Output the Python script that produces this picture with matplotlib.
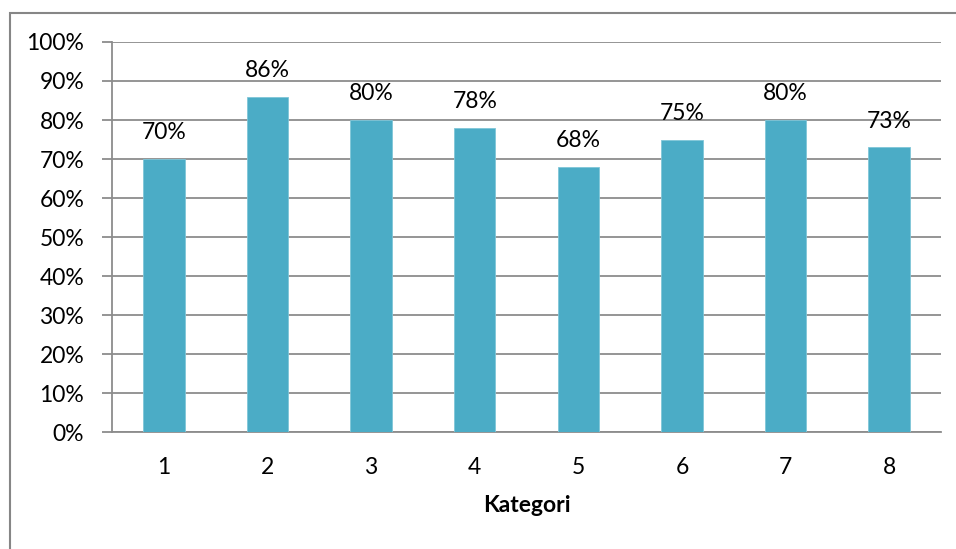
import matplotlib.pyplot as plt
import matplotlib.patches as patches
import numpy as np

# categories and shares
kategori = ['1', '2', '3', '4', '5', '6', '7', '8']
nilai = [0.70, 0.86, 0.80, 0.78, 0.68, 0.75, 0.80, 0.73]

plt.rcParams['font.family'] = ['Lato', 'DejaVu Sans']
fs = 16.5

fig = plt.figure(figsize=(9.56, 5.49), dpi=100)
ax = fig.add_axes([0.1172, 0.2131, 0.8671, 0.7104])

x = np.arange(len(kategori))
bars = ax.bar(x, nilai, 0.4, color='#4BACC6', edgecolor='#7FC6D8', linewidth=0.6, zorder=3)

# value labels above bars
for b, v in zip(bars, nilai):
    ax.text(b.get_x() + b.get_width() / 2, v + 0.04, '{:.0f}%'.format(v * 100),
            ha='center', va='bottom', fontsize=fs, color='black')

ax.set_xlim(-0.5, len(kategori) - 0.5)
ax.set_ylim(0, 1.0)
ax.set_yticks(np.arange(0, 1.01, 0.1))
ax.set_yticklabels(['{:.0f}%'.format(t * 100) for t in np.arange(0, 1.01, 0.1)])
ax.set_xticks(x)
ax.set_xticklabels(kategori)

ax.yaxis.grid(True, color='#8C8C8C', linewidth=1.3, zorder=0)
ax.set_axisbelow(True)
for s in ['top', 'right']:
    ax.spines[s].set_visible(False)
ax.spines['left'].set_color('#8C8C8C')
ax.spines['left'].set_linewidth(1.3)
ax.spines['bottom'].set_color('#8C8C8C')
ax.spines['bottom'].set_linewidth(1.3)

ax.tick_params(axis='y', length=7, width=1.3, color='#8C8C8C', labelsize=fs, pad=13)
ax.tick_params(axis='x', length=0, labelsize=fs, pad=18)

ax.set_xlabel('Kategori', fontsize=fs, fontweight='bold', labelpad=12)

# chart area border
border = patches.Rectangle((10 / 956, -0.1), 1.2, (549 - 13) / 549 + 0.1,
                           transform=fig.transFigure, fill=False,
                           edgecolor='#868686', linewidth=1.5)
fig.patches.append(border)

plt.savefig('out.png', dpi=100)
